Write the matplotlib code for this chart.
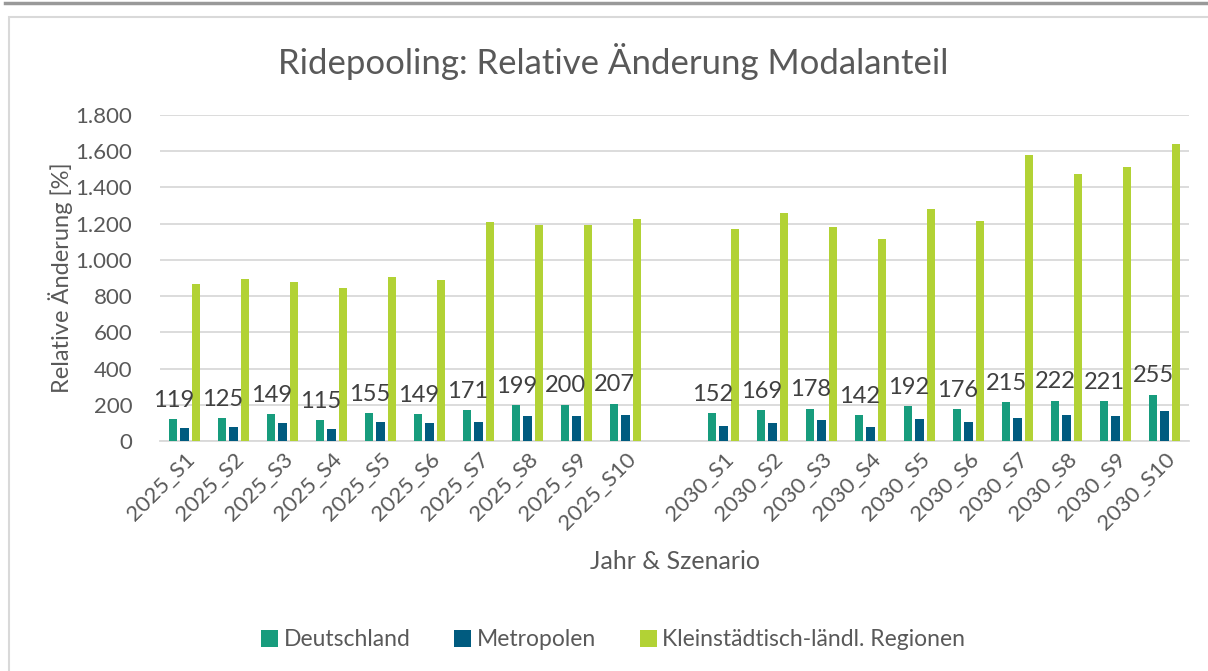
import numpy as np
import matplotlib
matplotlib.use("Agg")
import matplotlib.pyplot as plt
from matplotlib.ticker import FuncFormatter, MultipleLocator
from matplotlib.patches import Rectangle
from matplotlib.lines import Line2D

plt.rcParams['font.family'] = ['Lato', 'DejaVu Sans']

# Data
scenarios_2025 = ['2025_S1', '2025_S2', '2025_S3', '2025_S4', '2025_S5',
                  '2025_S6', '2025_S7', '2025_S8', '2025_S9', '2025_S10']
scenarios_2030 = ['2030_S1', '2030_S2', '2030_S3', '2030_S4', '2030_S5',
                  '2030_S6', '2030_S7', '2030_S8', '2030_S9', '2030_S10']
categories = scenarios_2025 + [''] + scenarios_2030

deutschland = [119, 125, 149, 115, 155, 149, 171, 199, 200, 207, None,
               152, 169, 178, 142, 192, 176, 215, 222, 221, 255]
metropolen = [70, 76, 101, 66, 105, 102, 105, 138, 137, 142, None,
              85, 98, 114, 77, 120, 107, 125, 144, 138, 166]
laendlich = [867, 893, 880, 847, 908, 887, 1210, 1190, 1195, 1225, None,
             1170, 1260, 1183, 1113, 1279, 1213, 1577, 1474, 1513, 1640]

series_names = ['Deutschland', 'Metropolen', 'Kleinstädtisch-ländl. Regionen']
colors = ['#179C7D', '#005B7F', '#B2D235']
text_color = '#595959'

def clean(vals):
    return np.array([np.nan if v is None else v for v in vals], dtype=float)

fig = plt.figure(figsize=(12.08, 6.71), dpi=100)

# outer decoration: dark line on top and light chart border
fig.add_artist(Line2D([5 / 1208, 1.0], [1 - 3 / 671, 1 - 3 / 671], color='#999999', lw=2.5,
                      transform=fig.transFigure))
fig.add_artist(Rectangle((9 / 1208, -0.05), 1.1, 1 - 17 / 671 + 0.05, fill=False,
                         edgecolor='#d9d9d9', lw=1.5, transform=fig.transFigure))

ax = fig.add_axes([160 / 1208, (671 - 441) / 671, 1029 / 1208, 326 / 671])

x = np.arange(len(categories))
w = 0.165
step = 0.228
for i, (vals, c, name) in enumerate(zip([deutschland, metropolen, laendlich], colors, series_names)):
    ax.bar(x + (i - 1) * step, clean(vals), width=w, color=c, label=name, zorder=3)

# data labels for Deutschland
for xi, v in zip(x, deutschland):
    if v is None:
        continue
    ax.annotate(f'{v}', (xi - step, v), xytext=(0, 6), textcoords='offset points',
                ha='center', va='bottom', fontsize=17, color='#404040')

ax.set_xlim(-0.5, len(categories) - 0.5)
ax.set_ylim(0, 1800)
ax.yaxis.set_major_locator(MultipleLocator(200))
ax.yaxis.set_major_formatter(FuncFormatter(lambda v, p: f'{int(v):,}'.replace(',', '.')))
ax.grid(axis='y', color='#d9d9d9', lw=1.3, zorder=0)
for s in ['top', 'right', 'left']:
    ax.spines[s].set_visible(False)
ax.spines['bottom'].set_color('#d9d9d9')
ax.spines['bottom'].set_linewidth(1.3)
ax.tick_params(axis='y', length=0, pad=20, labelsize=16, labelcolor=text_color)
ax.tick_params(axis='x', length=0, pad=6, labelsize=16, labelcolor=text_color)

ax.set_xticks(x)
ax.set_xticklabels(categories, rotation=45, ha='right', rotation_mode='anchor')

ax.set_ylabel('Relative Änderung [%]', fontsize=17, color=text_color, labelpad=2)
ax.set_xlabel('Jahr & Szenario', fontsize=18, color=text_color, labelpad=12)

fig.text(613 / 1208, 1 - 62 / 671, 'Ridepooling: Relative Änderung Modalanteil',
         ha='center', va='center', fontsize=25, color=text_color)

fig.legend(loc='center', bbox_to_anchor=(613 / 1208, 1 - 640 / 671), ncol=3, frameon=False,
           fontsize=16.5, labelcolor=text_color, handlelength=0.75, handleheight=0.75,
           handletextpad=0.25, columnspacing=1.9)

fig.savefig('out.png', dpi=100, facecolor='white')
